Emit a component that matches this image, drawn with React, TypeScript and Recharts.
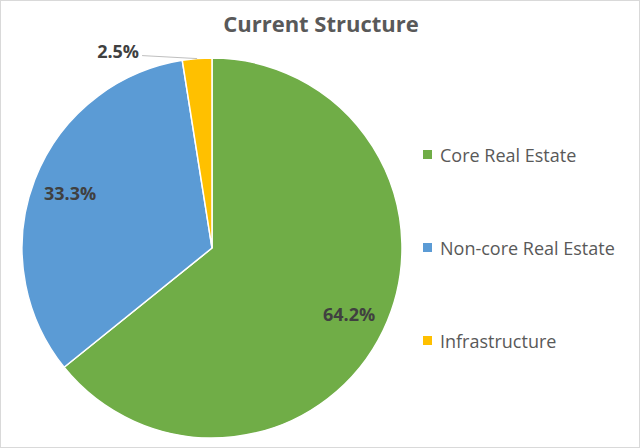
import { Legend, Pie, PieChart, Cell } from "recharts";

const categories = ["Core Real Estate", "Non-core Real Estate", "Infrastructure"];
const shares = [64.2, 33.3, 2.5];
const colors = ["#70AD47", "#5B9BD5", "#FFC000"];

const data = categories.map((name, i) => ({ name, value: shares[i] }));

const RAD = Math.PI / 180;
const FONT = "'Open Sans', 'DejaVu Sans', sans-serif";

function renderLabel(props: any) {
  const { cx, cy, midAngle, outerRadius, value } = props;
  const cos = Math.cos(-midAngle * RAD);
  const sin = Math.sin(-midAngle * RAD);
  if (value < 5) {
    // small slice: label outside with a leader line
    const ox = cx + outerRadius * cos;
    const oy = cy + outerRadius * sin;
    const ex = ox - 55;
    const ey = oy - 3;
    return (
      <g>
        <line x1={ox} y1={oy} x2={ex} y2={ey} stroke="#bfbfbf" strokeWidth={1} />
        <text
          x={ex - 3}
          y={ey - 5}
          textAnchor="end"
          dominantBaseline="central"
          fill="#404040"
          fontFamily={FONT}
          fontWeight={700}
          fontSize={18}
        >
          {value.toFixed(1)}%
        </text>
      </g>
    );
  }
  const r = outerRadius * 0.8;
  return (
    <text
      x={cx + r * cos}
      y={cy + r * sin}
      textAnchor="middle"
      dominantBaseline="central"
      fill="#404040"
      fontFamily={FONT}
      fontWeight={700}
      fontSize={18}
    >
      {value.toFixed(1)}%
    </text>
  );
}

function LegendList() {
  return (
    <div style={{ display: "flex", flexDirection: "column", gap: 70 }}>
      {categories.map((name, i) => (
        <div key={name} style={{ display: "flex", alignItems: "center", height: 23 }}>
          <span
            style={{ width: 9, height: 9, background: colors[i], display: "inline-block", marginRight: 8 }}
          />
          <span style={{ fontFamily: FONT, fontSize: 18, color: "#595959", whiteSpace: "nowrap" }}>
            {name}
          </span>
        </div>
      ))}
    </div>
  );
}

export default function App() {
  return (
    <div
      style={{
        position: "absolute",
        left: 0,
        top: 0,
        width: 640,
        height: 448,
        boxSizing: "border-box",
        border: "1px solid #d9d9d9",
        background: "#fff",
        overflow: "hidden",
      }}
    >
      <div
        style={{
          position: "absolute",
          top: 7,
          left: 0,
          width: 640,
          textAlign: "center",
          fontFamily: FONT,
          fontWeight: 700,
          fontSize: 22,
          color: "#595959",
        }}
      >
        Current Structure
      </div>
      <div style={{ position: "absolute", left: -1, top: -1 }}>
        <PieChart width={640} height={448} margin={{ top: 0, right: 0, bottom: 0, left: 0 }}>
          <Pie
            data={data}
            dataKey="value"
            nameKey="name"
            cx={212}
            cy={248}
            outerRadius={190}
            startAngle={90}
            endAngle={-270}
            stroke="#ffffff"
            strokeWidth={1.5}
            label={renderLabel}
            labelLine={false}
            isAnimationActive={false}
          >
            {data.map((d, i) => (
              <Cell key={d.name} fill={colors[i]} />
            ))}
          </Pie>
          <Legend
            layout="vertical"
            align="right"
            verticalAlign="top"
            content={<LegendList />}
            wrapperStyle={{ left: 423, top: 143, width: 215 }}
          />
        </PieChart>
      </div>
    </div>
  );
}
